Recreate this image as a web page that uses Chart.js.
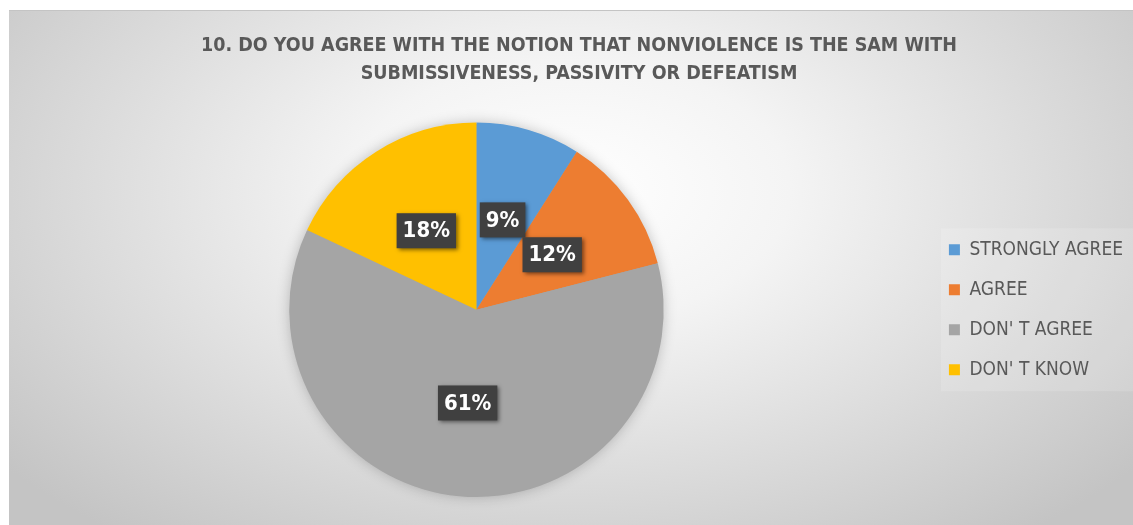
<!DOCTYPE html>
<html>
<head>
<meta charset="utf-8">
<script src="https://cdn.jsdelivr.net/npm/chart.js@4"></script>
<style>
    html, body { margin: 0; padding: 0; background: #ffffff; }
    .chart-box {
        position: absolute;
        left: 9px;
        top: 10px;
        width: 1124px;
        height: 515px;
        border-top: 1px solid #c4c4c4;
        box-sizing: border-box;
        background: radial-gradient(ellipse 65% 85% at 50% 35%, #ffffff 0%, #f4f4f4 30%, #dcdcdc 65%, #c4c4c4 100%);
    }
    canvas { position: absolute; left: 0; top: -1px; }
</style>
</head>
<body>
<div class="chart-box">
    <canvas id="pieChart" width="1124" height="515"></canvas>
</div>
<script>
const categories = ['STRONGLY AGREE', 'AGREE', "DON' T AGREE", "DON' T KNOW"];
const shares = [9, 12, 61, 18];
const sliceColors = ['#5B9BD5', '#ED7D31', '#A5A5A5', '#FFC000'];
const titleLines = [
    '10. DO YOU AGREE WITH THE NOTION THAT NONVIOLENCE IS THE SAM WITH',
    'SUBMISSIVENESS, PASSIVITY OR DEFEATISM'
];

const fontFamily = '"DejaVu Sans Condensed", "DejaVu Sans", sans-serif';

// faint lighter panel behind the legend entries
const legendPanel = {
    id: 'legendPanel',
    beforeDraw(chart) {
        const boxes = chart.legend && chart.legend.legendHitBoxes;
        if (!boxes || !boxes.length) return;
        const first = boxes[0];
        const last = boxes[boxes.length - 1];
        const ctx = chart.ctx;
        ctx.save();
        ctx.fillStyle = 'rgba(255, 255, 255, 0.15)';
        ctx.fillRect(first.left - 8, first.top - 12, chart.width - first.left + 8, last.top + last.height + 12 - (first.top - 12));
        ctx.restore();
    }
};

// soft shadow under the whole pie, drawn once before the slices
const pieShadow = {
    id: 'pieShadow',
    beforeDatasetsDraw(chart) {
        const arc = chart.getDatasetMeta(0).data[0];
        if (!arc) return;
        const ctx = chart.ctx;
        ctx.save();
        ctx.shadowColor = 'rgba(0, 0, 0, 0.25)';
        ctx.shadowBlur = 14;
        ctx.fillStyle = '#A5A5A5';
        ctx.beginPath();
        ctx.arc(arc.x, arc.y, arc.outerRadius - 1, 0, Math.PI * 2);
        ctx.fill();
        ctx.restore();
    }
};

// percentage labels in dark boxes
const valueBoxes = {
    id: 'valueBoxes',
    afterDatasetsDraw(chart) {
        const ctx = chart.ctx;
        const values = chart.data.datasets[0].data;
        chart.getDatasetMeta(0).data.forEach((arc, i) => {
            const pos = arc.tooltipPosition();
            const text = values[i] + '%';
            ctx.save();
            ctx.font = 'bold 22px ' + fontFamily;
            const w = ctx.measureText(text).width + 12;
            const h = 35;
            ctx.shadowColor = 'rgba(0, 0, 0, 0.5)';
            ctx.shadowBlur = 4;
            ctx.shadowOffsetX = 2;
            ctx.shadowOffsetY = 2;
            ctx.fillStyle = '#404040';
            ctx.fillRect(pos.x - w / 2, pos.y - h / 2, w, h);
            ctx.shadowColor = 'transparent';
            ctx.fillStyle = '#ffffff';
            ctx.textAlign = 'center';
            ctx.textBaseline = 'middle';
            ctx.fillText(text, pos.x, pos.y + 1);
            ctx.restore();
        });
    }
};

new Chart(document.getElementById('pieChart'), {
    type: 'pie',
    data: {
        labels: categories,
        datasets: [{
            data: shares,
            backgroundColor: sliceColors,
            borderWidth: 0
        }]
    },
    options: {
        responsive: false,
        animation: false,
        layout: {
            padding: { left: 16, right: 0, top: 0, bottom: 28 }
        },
        plugins: {
            title: {
                display: true,
                text: titleLines,
                color: '#595959',
                font: { family: fontFamily, size: 19.5, weight: 'bold', lineHeight: 1.45 },
                padding: { top: 22, bottom: 34 }
            },
            legend: {
                position: 'right',
                fullSize: false,
                labels: {
                    color: '#595959',
                    font: { family: fontFamily, size: 19 },
                    boxWidth: 11,
                    boxHeight: 11,
                    padding: 21
                }
            },
            tooltip: { enabled: false }
        }
    },
    plugins: [legendPanel, pieShadow, valueBoxes]
});
</script>
</body>
</html>
